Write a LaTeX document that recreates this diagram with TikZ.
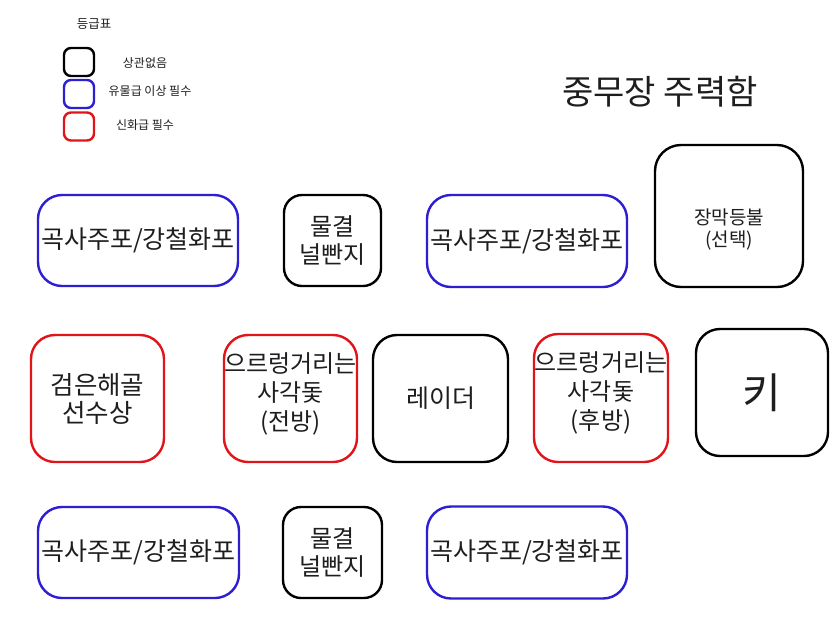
\documentclass[tikz,border=0pt]{standalone}
\usepackage{fontspec}
\setmainfont{Noto Sans CJK KR}
\definecolor{bblue}{RGB}{45,30,210}
\definecolor{rred}{RGB}{225,20,25}
\definecolor{ink}{RGB}{30,30,30}
\tikzset{
  box/.style={draw, line width=2.4pt, rounded corners=24pt, inner sep=0pt, align=center, text=ink,
              font=\fontsize{25}{28}\selectfont},
  bluebox/.style={box, draw=bblue},
  redbox/.style={box, draw=rred},
  blackbox/.style={box, draw=black},
  legbox/.style={draw, line width=2.4pt, rounded corners=7pt, inner sep=0pt, minimum width=30pt, minimum height=28pt},
  legtext/.style={inner sep=0pt, text=ink, font=\fontsize{12}{14}\selectfont},
  boxtext/.style={inner sep=0pt, align=center, text=ink, font=\fontsize{19}{22}\selectfont},
  growltext/.style={inner sep=0pt, align=center, text=ink, font=\fontsize{24}{29}\selectfont},
}
\begin{document}
\begin{tikzpicture}[x=1pt, y=-1pt]
\useasboundingbox[fill=white] (0,0) rectangle (840,630);

% legend
\node[legtext, font=\fontsize{12.5}{14}\selectfont] (legtitle) at (94,24) {등급표};
\node[legbox, draw=black] (lblack) at (79,62) {};
\node[legbox, draw=bblue] (lblue) at (79,94) {};
\node[legbox, draw=rred] (lred) at (79,126.5) {};
\node[legtext] (tblack) at (145,63) {상관없음};
\node[legtext] (tblue) at (150,91) {유물급 이상 필수};
\node[legtext] (tred) at (145,125.5) {신화급 필수};

% title
\node[inner sep=0pt, text=ink, font=\fontsize{34}{38}\selectfont] (title) at (660,92) {중무장 주력함};

% row 1
\node[bluebox, minimum width=200pt, minimum height=91pt] (b1) at (138,240.5) {곡사주포/강철화포};
\node[blackbox, rounded corners=18pt, minimum width=97pt, minimum height=91pt, font=\fontsize{24}{28}\selectfont] (m1) at (332.5,240.5) {물결\\널빤지};
\node[bluebox, minimum width=200pt, minimum height=92pt] (b2) at (527,241) {곡사주포/강철화포};
\node[blackbox, rounded corners=26pt, minimum width=148pt, minimum height=142pt] (lamp) at (729,216) {};
\node[boxtext] (lamptext) at ([yshift=-13pt]lamp.center) {장막등불\\(선택)};

% row 2
\node[redbox, minimum width=133pt, minimum height=127pt, font=\fontsize{25.5}{28}\selectfont] (skull) at (97.5,398.5) {검은해골\\선수상};
\node[redbox, minimum width=133pt, minimum height=127pt] (growl1) at (290.5,398.5) {};
\node[growltext] (growl1text) at ([yshift=5pt]growl1.center) {으르렁거리는\\사각돛\\(전방)};
\node[blackbox, minimum width=135pt, minimum height=127pt] (radar) at (440.5,398.5) {레이더};
\node[redbox, minimum width=134pt, minimum height=128pt] (growl2) at (601,398) {};
\node[growltext] (growl2text) at ([yshift=5pt]growl2.center) {으르렁거리는\\사각돛\\(후방)};
\node[blackbox, minimum width=132pt, minimum height=127pt, font=\fontsize{42}{46}\selectfont] (key) at (762,392.5) {키};

% row 3
\node[bluebox, minimum width=201pt, minimum height=91pt] (b3) at (138.5,552.5) {곡사주포/강철화포};
\node[blackbox, rounded corners=18pt, minimum width=99pt, minimum height=91pt, font=\fontsize{24}{28}\selectfont] (m2) at (332.5,552.5) {물결\\널빤지};
\node[bluebox, minimum width=200pt, minimum height=92pt] (b4) at (527,552.5) {곡사주포/강철화포};
\end{tikzpicture}
\end{document}
